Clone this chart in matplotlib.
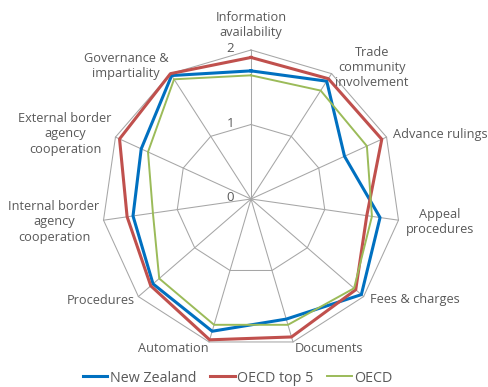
import numpy as np
import matplotlib
matplotlib.use("Agg")
import matplotlib.pyplot as plt

categories = ["Information\navailability", "Trade\ncommunity\ninvolvement", "Advance rulings",
              "Appeal\nprocedures", "Fees & charges", "Documents", "Automation", "Procedures",
              "Internal border\nagency\ncooperation", "External border\nagency\ncooperation",
              "Governance &\nimpartiality"]
new_zealand = [1.72, 1.88, 1.38, 1.75, 1.96, 1.68, 1.85, 1.74, 1.60, 1.62, 1.97]
oecd_top5 = [1.90, 1.92, 1.93, 1.57, 1.86, 1.93, 1.97, 1.78, 1.68, 1.94, 2.00]
oecd = [1.66, 1.73, 1.71, 1.64, 1.83, 1.76, 1.76, 1.63, 1.33, 1.52, 1.91]
ring_values = [1, 2]
tick_labels = ["0", "1", "2"]

# label centre positions in pixels (x from left, y from top)
label_pos = [(251, 25), (372, 68), (440, 135), (440, 222), (415, 300), (329, 349),
             (173, 349), (101, 300), (54, 222), (65, 134), (126, 66)]

W, H = 488, 387
fig = plt.figure(figsize=(W / 100, H / 100), dpi=100)
plt.rcParams['font.family'] = ['Open Sans', 'DejaVu Sans']

cx, cy, R = 251, 199, 149
ax = fig.add_axes([(cx - R) / W, (H - cy - R) / H, 2 * R / W, 2 * R / H], projection='polar')
ax.set_theta_offset(np.pi / 2)
ax.set_theta_direction(-1)
ax.set_ylim(0, 2)
ax.grid(False)
ax.spines['polar'].set_visible(False)
ax.set_xticks([])
ax.set_yticks([])
ax.patch.set_visible(False)

n = len(categories)
theta = np.arange(n) * 2 * np.pi / n
theta_closed = np.append(theta, theta[0])

grid_color = '#A6A6A6'
for rv in ring_values:
    ax.plot(theta_closed, [rv] * (n + 1), color=grid_color, lw=0.75, clip_on=False, zorder=1)
for t in theta:
    ax.plot([t, t], [0, 2], color=grid_color, lw=0.75, clip_on=False, zorder=1)

series = [("New Zealand", new_zealand, '#0070C0', 2.2),
          ("OECD top 5", oecd_top5, '#C0504D', 2.2),
          ("OECD", oecd, '#9BBB59', 1.4)]
handles = []
for name, vals, col, lw in series:
    v = list(vals) + [vals[0]]
    h, = ax.plot(theta_closed, v, color=col, lw=lw, clip_on=False, zorder=3, label=name)
    handles.append(h)

text_color = '#595959'
for i, tl in enumerate(tick_labels):
    ax.annotate(tl, xy=(0, i), xytext=(-12, 1), textcoords='offset points',
                ha='right', va='center', fontsize=9.5, color=text_color, zorder=4)

for lab, (px, py) in zip(categories, label_pos):
    fig.text(px / W, 1 - py / H, lab, ha='center', va='center', fontsize=9.2,
             color=text_color, linespacing=1.2)

fig.legend(handles=handles, loc='center', bbox_to_anchor=(0.487, 1 - 378 / H), ncol=3,
           frameon=False, fontsize=10.3, handlelength=1.7, handletextpad=0.15,
           columnspacing=1.0, labelcolor=text_color)

fig.savefig("out.png", dpi=100)
